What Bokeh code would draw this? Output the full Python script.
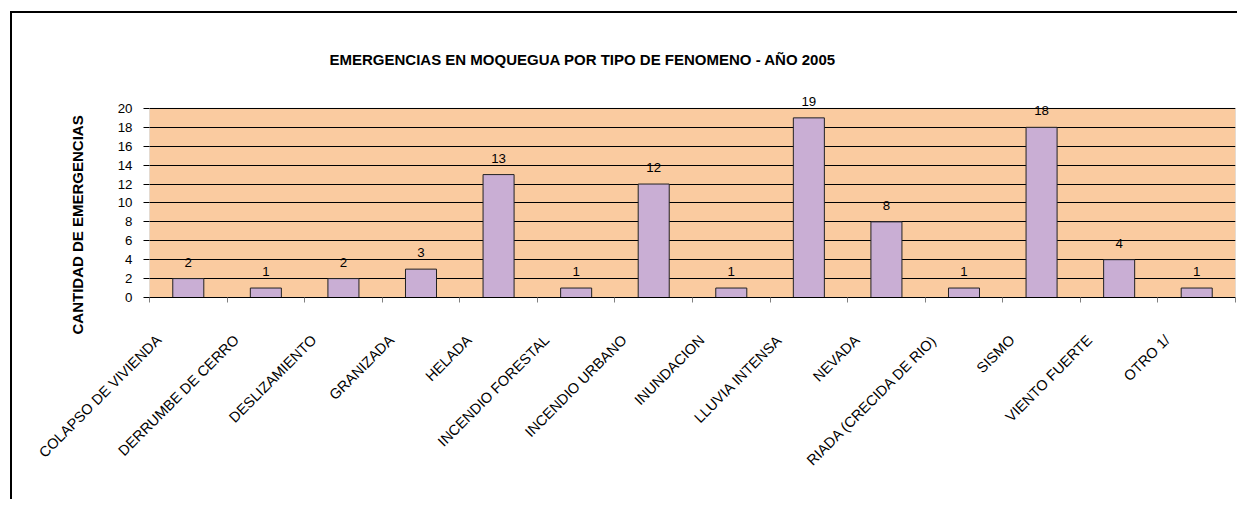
import math
from bokeh.plotting import figure
from bokeh.models import (ColumnDataSource, FixedTicker, LabelSet, Range1d, Title, BoxAnnotation)
from bokeh.core.properties import value
from bokeh.embed import file_html
from bokeh.resources import INLINE

categories = ["COLAPSO DE VIVIENDA", "DERRUMBE DE CERRO", "DESLIZAMIENTO", "GRANIZADA",
              "HELADA", "INCENDIO FORESTAL", "INCENDIO URBANO", "INUNDACION",
              "LLUVIA INTENSA", "NEVADA", "RIADA (CRECIDA DE RIO)", "SISMO",
              "VIENTO FUERTE", "OTRO 1/"]
values = [2, 1, 2, 3, 13, 1, 12, 1, 19, 8, 1, 18, 4, 1]
y_ticks = list(range(0, 21, 2))
y_max = 20
title_text = "EMERGENCIAS EN MOQUEGUA POR TIPO DE FENOMENO - AÑO 2005"
y_title = "CANTIDAD DE EMERGENCIAS"

n = len(categories)
centers = [i + 0.5 for i in range(n)]
label_pos = [c - 0.38 for c in centers]
src = ColumnDataSource(dict(x=centers, top=values, lab=[str(v) for v in values]))

FONT = "Liberation Sans"

p = figure(frame_width=1086, frame_height=208,
           min_border_left=137, min_border_top=76, min_border_right=2, min_border_bottom=202,
           x_range=Range1d(0, n), y_range=Range1d(0, 22),
           output_backend="svg", toolbar_location=None, tools="")
p.styles = {"border-top": "2px solid black", "border-left": "2px solid black",
            "position": "relative", "left": "10px", "top": "11px"}

p.background_fill_color = "white"
p.border_fill_color = "white"
p.outline_line_color = None

# plot area (peach) from 0 to the top tick, with its outline
p.add_layout(BoxAnnotation(left=0, right=n, bottom=0, top=y_max,
                           fill_color="#FACBA0", fill_alpha=1.0,
                           line_color="#555555", line_width=1, level="image"))

p.vbar(x="x", top="top", width=0.4, bottom=0, source=src,
       fill_color="#C9AED4", line_color="#222222", line_width=1)

# y axis
p.yaxis.ticker = FixedTicker(ticks=y_ticks)
p.yaxis.major_label_text_font = FONT
p.yaxis.major_label_text_font_size = "13.3px"
p.yaxis.major_label_text_color = "black"
p.yaxis.major_tick_out = 6
p.yaxis.major_tick_in = 0
p.yaxis.minor_tick_line_color = None
p.yaxis.axis_line_color = None
p.yaxis.major_tick_line_color = "black"
p.yaxis.major_label_standoff = 11

# x axis: labels near centers, minor ticks at category boundaries
p.xaxis.ticker = FixedTicker(ticks=label_pos, minor_ticks=list(range(n + 1)))
p.xaxis.major_label_overrides = {c: lab for c, lab in zip(label_pos, categories)}
p.xaxis.major_tick_line_color = None
p.xaxis.minor_tick_out = 5
p.xaxis.minor_tick_in = 0
p.xaxis.minor_tick_line_color = "#808080"
p.xaxis.axis_line_color = "black"
p.xaxis.major_label_orientation = math.pi / 4
p.xaxis.major_label_text_font = FONT
p.xaxis.major_label_text_font_size = "14.5px"
p.xaxis.major_label_text_color = "black"
p.xaxis.major_label_standoff = 34

p.xgrid.visible = False
p.ygrid.ticker = FixedTicker(ticks=y_ticks)
p.ygrid.grid_line_color = "black"
p.ygrid.grid_line_width = 1

labels = LabelSet(x="x", y="top", text="lab", source=src, y_offset=12,
                  text_align="center", text_baseline="alphabetic",
                  text_font=value(FONT), text_font_size=value("13.3px"), text_color="black")
p.add_layout(labels)

p.title = Title(text=title_text, align="left", offset=180, standoff=43,
                text_font=FONT, text_font_size="15px", text_font_style="bold",
                text_color="black")
p.add_layout(Title(text=y_title, align="left", offset=-37, standoff=57,
                   text_font=FONT, text_font_size="15px", text_font_style="bold",
                   text_color="black"), "left")

open("out.html", "w").write(file_html(p, INLINE))
